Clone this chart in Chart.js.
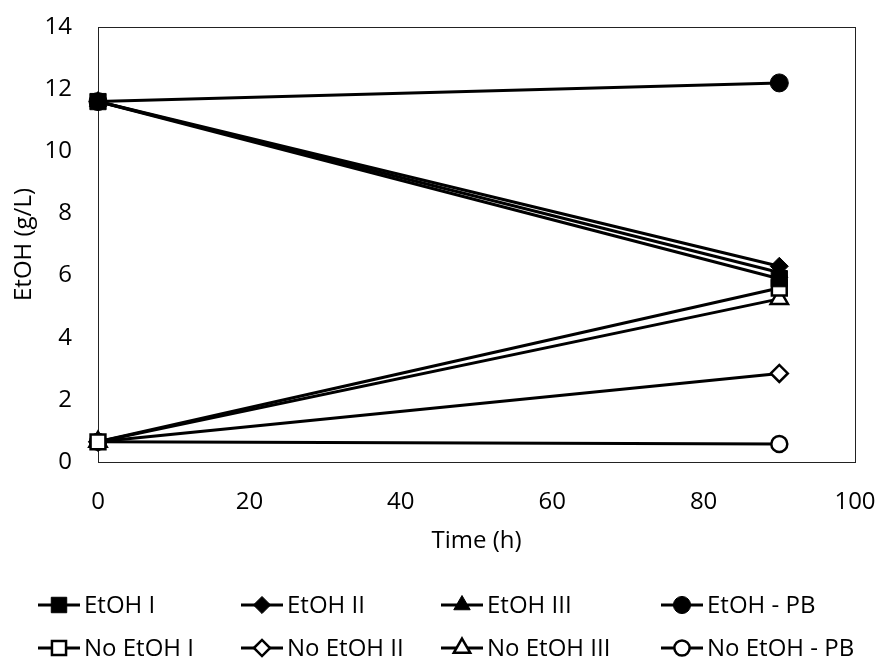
<!DOCTYPE html>
<html>
<head>
<meta charset="utf-8">
<script src="https://cdn.jsdelivr.net/npm/chart.js@4/dist/chart.umd.min.js"></script>
<style>
  html, body { margin: 0; padding: 0; background: #fff; }
  #wrap { width: 881px; height: 661px; }
</style>
</head>
<body>
<div id="wrap"><canvas id="chart" width="881" height="661"></canvas></div>
<script>
const timeH = [0, 90];

const etohI = [11.6, 5.9];
const etohII = [11.6, 6.3];
const etohIII = [11.6, 6.1];
const etohPB = [11.6, 12.2];
const noEtohI = [0.65, 5.6];
const noEtohII = [0.65, 2.85];
const noEtohIII = [0.65, 5.25];
const noEtohPB = [0.65, 0.58];

const seriesNames = ["EtOH I", "EtOH II", "EtOH III", "EtOH - PB",
  "No EtOH I", "No EtOH II", "No EtOH III", "No EtOH - PB"];

const FONT = "'Open Sans', 'Noto Sans', sans-serif";
const FS = 24;

function pts(values) {
  return values.map((v, i) => ({ x: timeH[i], y: v }));
}

function series(label, values, style, radius, filled) {
  return {
    label: label,
    data: pts(values),
    borderColor: "#000",
    borderWidth: 3,
    pointStyle: style,
    pointRadius: radius,
    pointHoverRadius: radius,
    pointBackgroundColor: filled ? "#000" : "#fff",
    pointBorderColor: "#000",
    pointBorderWidth: filled ? 1 : 2.5,
    fill: false,
    tension: 0,
    clip: false,
  };
}

const datasets = [
  series(seriesNames[0], etohI, "rect", 11.5, true),
  series(seriesNames[1], etohII, "rectRot", 9, true),
  series(seriesNames[2], etohIII, "triangle", 10, true),
  series(seriesNames[3], etohPB, "circle", 9, true),
  series(seriesNames[4], noEtohI, "rect", 10.5, false),
  series(seriesNames[5], noEtohII, "rectRot", 8.5, false),
  series(seriesNames[6], noEtohIII, "triangle", 10, false),
  series(seriesNames[7], noEtohPB, "circle", 8, false),
];

// frame round the plot area (top and right too)
const frame = {
  id: "frame",
  beforeDatasetsDraw(chart) {
    const a = chart.chartArea;
    const ctx = chart.ctx;
    ctx.save();
    ctx.strokeStyle = "#222";
    ctx.lineWidth = 1;
    ctx.strokeRect(Math.round(a.left) + 0.5, Math.round(a.top) + 0.5,
      Math.round(a.right - a.left), Math.round(a.bottom - a.top));
    ctx.restore();
  },
};

// legend in a 4 x 2 grid under the chart
const gridLegend = {
  id: "gridLegend",
  afterDraw(chart) {
    const ctx = chart.ctx;
    const cols = [59, 262, 462, 682];
    const rows = [605, 648];
    ctx.save();
    chart.data.datasets.forEach((ds, i) => {
      const cx = cols[i % 4];
      const cy = rows[Math.floor(i / 4)];
      ctx.strokeStyle = "#000";
      ctx.lineWidth = 3;
      ctx.beginPath();
      ctx.moveTo(cx - 21, cy);
      ctx.lineTo(cx + 21, cy);
      ctx.stroke();
      ctx.fillStyle = ds.pointBackgroundColor;
      ctx.strokeStyle = "#000";
      ctx.lineWidth = ds.pointBorderWidth;
      Chart.helpers.drawPoint(ctx, {
        pointStyle: ds.pointStyle,
        radius: ds.pointRadius * 0.95,
        borderWidth: ds.pointBorderWidth,
        rotation: 0,
      }, cx, cy);
      ctx.fillStyle = "#000";
      ctx.font = FS + "px " + FONT;
      ctx.textBaseline = "middle";
      ctx.textAlign = "left";
      ctx.fillText(ds.label, cx + 25, cy + 1);
    });
    ctx.restore();
  },
};

new Chart(document.getElementById("chart"), {
  type: "line",
  data: { datasets: datasets },
  options: {
    responsive: false,
    animation: false,
    layout: { autoPadding: false, padding: { top: 27, right: 26, bottom: 104, left: 0 } },
    plugins: {
      legend: { display: false },
      tooltip: { enabled: false },
    },
    scales: {
      x: {
        type: "linear",
        min: 0,
        max: 100,
        afterFit: (scale) => {
          scale.height = 95;
          scale.paddingLeft = 0;
          scale.paddingRight = 0;
        },
        ticks: { stepSize: 20, color: "#000", font: { family: FONT, size: FS }, padding: 26, maxRotation: 0 },
        grid: { display: false, drawTicks: false },
        border: { display: false },
        title: { display: true, text: "Time (h)", color: "#000", font: { family: FONT, size: FS }, padding: { top: 0, bottom: 1 } },
      },
      y: {
        min: 0,
        max: 14,
        afterFit: (scale) => {
          scale.width = 98;
          scale.paddingTop = 0;
          scale.paddingBottom = 0;
        },
        ticks: { stepSize: 2, color: "#000", font: { family: FONT, size: FS }, padding: 26 },
        grid: { display: false, drawTicks: false },
        border: { display: false },
        title: { display: true, text: "EtOH (g/L)", color: "#000", font: { family: FONT, size: FS }, padding: { top: 10, bottom: 0 } },
      },
    },
  },
  plugins: [frame, gridLegend],
});
</script>
</body>
</html>
